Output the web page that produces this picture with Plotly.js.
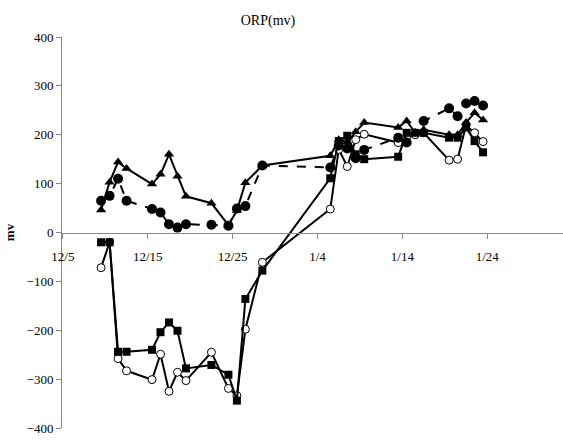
<!DOCTYPE html>
<html>
<head>
<meta charset="utf-8">
<script src="https://cdn.plot.ly/plotly-3.0.1.min.js"></script>
<style>html,body{margin:0;padding:0;background:#fff;}#chart{width:563px;height:440px;}</style>
</head>
<body>
<div id="chart"></div>
<script>
const dates = [
  "2008-12-09 12:00","2008-12-10 12:00","2008-12-11 12:00","2008-12-12 12:00",
  "2008-12-15 12:00","2008-12-16 12:00","2008-12-17 12:00","2008-12-18 12:00",
  "2008-12-19 12:00","2008-12-22 12:00","2008-12-24 12:00","2008-12-25 12:00",
  "2008-12-26 12:00","2008-12-28 12:00",
  "2009-01-05 12:00","2009-01-06 12:00","2009-01-07 12:00","2009-01-08 12:00",
  "2009-01-09 12:00","2009-01-13 12:00","2009-01-14 12:00","2009-01-15 12:00",
  "2009-01-16 12:00","2009-01-19 12:00","2009-01-20 12:00","2009-01-21 12:00",
  "2009-01-22 12:00","2009-01-23 12:00"
];
const triangleSeries = [46,103,144,131,99,119,160,115,74,60,15,45,102,137,
  157,190,185,206,225,215,228,205,210,200,200,225,245,230];
const dotSeries = [65,75,110,65,48,41,17,10,17,16,14,49,54,137,
  133,178,172,152,169,194,184,null,228,254,238,264,269,260];
const squareSeries = [-20,-20,-244,-244,-240,-204,-184,-201,-278,-271,-291,-344,-136,-78,
  111,187,198,160,150,155,204,204,204,194,194,215,187,164];
const openSeries = [-72,-20,-258,-283,-301,-249,-325,-286,-303,-245,-319,-334,-198,-61,
  48,170,135,190,201,184,195,200,204,148,150,220,204,186];
const tickDates = ["2008-12-05","2008-12-15","2008-12-25","2009-01-04","2009-01-14","2009-01-24","2009-02-03"];
const tickLabels = ["12/5","12/15","12/25","1/4","1/14","1/24","2/3"];
const yTicks = [-400,-300,-200,-100,0,100,200,300,400];

const FONT = "Liberation Serif, DejaVu Serif, serif";
function tr(y, symbol, size, dash, fill, lw){
  return {
    x: dates, y: y, type: "scatter", mode: "lines+markers", connectgaps: true,
    line: {color: "#000", width: 2, dash: dash},
    marker: {symbol: symbol, size: size, color: fill, line: {color: "#000", width: lw}},
    showlegend: false, cliponaxis: false
  };
}
const data = [
  tr(openSeries, "circle", 8, "solid", "#fff", 1),
  tr(squareSeries, "square", 8, "solid", "#000", 0),
  tr(dotSeries, "circle", 10, "dash", "#000", 0),
  tr(triangleSeries, "triangle-up", 9, "solid", "#000", 0)
];
const layout = {
  width: 563, height: 440,
  margin: {l: 62, r: 0, t: 37, b: 12},
  paper_bgcolor: "#fff", plot_bgcolor: "#fff",
  font: {family: FONT, size: 13, color: "#000"},
  title: {text: "ORP(mv)", x: 0.476, xref: "container", xanchor: "center",
          y: 0.955, yref: "container", yanchor: "middle",
          font: {family: FONT, size: 14, color: "#000"}},
  xaxis: {
    type: "date", anchor: "free", position: 0.5,
    range: ["2008-12-04 21:30", "2009-02-01 22:00"],
    tickvals: tickDates, ticktext: tickLabels,
    ticks: "outside", ticklen: 5, tickcolor: "#888", tickwidth: 1,
    showline: true, linecolor: "#888", linewidth: 1.5,
    showgrid: false, zeroline: false, ticklabelstandoff: 6,
    tickfont: {family: FONT, size: 13, color: "#000"}
  },
  yaxis: {
    range: [-400, 400], tickvals: yTicks,
    ticks: "outside", ticklen: 5, tickcolor: "#888", tickwidth: 1,
    showline: true, linecolor: "#888", linewidth: 1,
    showgrid: false, zeroline: false,
    tickfont: {family: FONT, size: 13, color: "#000"},
    title: {text: "mv", standoff: 9, font: {family: FONT, size: 13, color: "#000", weight: "bold"}}
  }
};
Plotly.newPlot("chart", data, layout, {staticPlot: true, displayModeBar: false});
</script>
</body>
</html>
